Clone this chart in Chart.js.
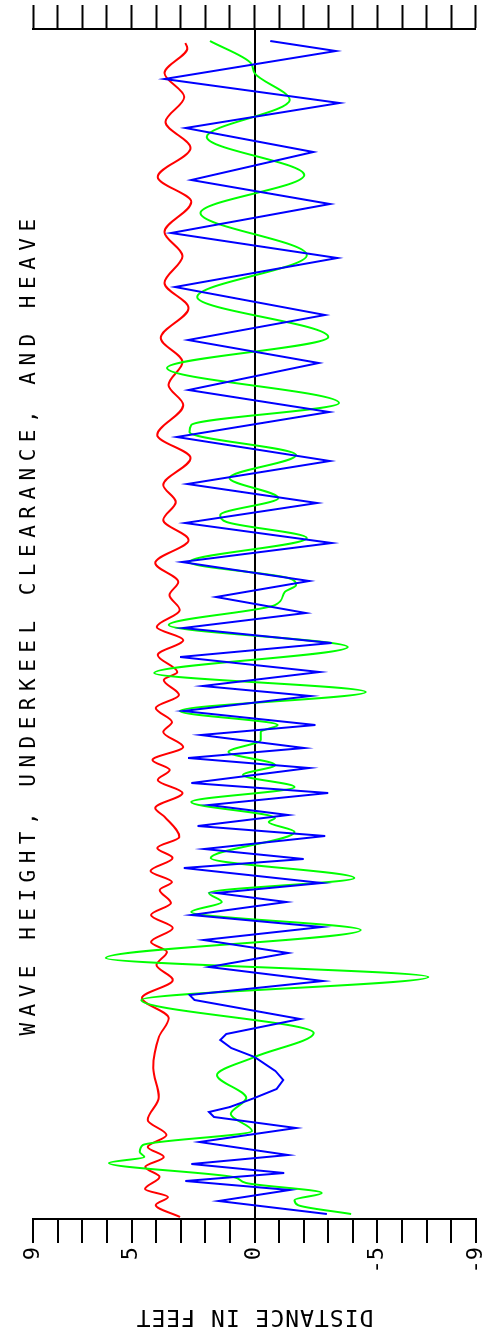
<!DOCTYPE html>
<html>
<head>
<meta charset="utf-8">
<script src="https://cdn.jsdelivr.net/npm/chart.js@4.4.0/dist/chart.umd.min.js"></script>
<style>
html, body { margin: 0; padding: 0; background: #fff; overflow: hidden; }
#wrap { position: absolute; left: 0; top: 0; width: 1335px; height: 493px;
        transform-origin: 0 0; transform: translateY(1335px) rotate(-90deg); }
canvas { display: block; }
</style>
</head>
<body>
<div id="wrap"><canvas id="c" width="1335" height="493"></canvas></div>
<script>
const TITLE = 'WAVE HEIGHT, UNDERKEEL CLEARANCE, AND HEAVE';
const Y_TITLE = 'DISTANCE IN FEET';
const Y_LABELED_TICKS = [9, 5, 0, -5, -9];

// time (s) and distance (ft) per series
const redTime = [0.2, 1.4, 2.2, 3.0, 4.2, 5.2, 6.2, 7.2, 8.4, 9.9, 12.2, 15.1, 18.2, 20.1, 22.1,
  23.9, 25.4, 26.7, 27.7, 29.1, 30.4, 31.6, 32.9, 33.7, 34.8, 36.1, 37.1, 38.2, 40.2, 41.1, 42.6,
  43.9, 44.9, 45.9, 47.2, 48.7, 49.7, 51.1, 52.4, 53.9, 54.7, 56.4, 57.9, 59.2, 60.9, 62.4,
  63.7, 65.6, 67.9, 69.9, 71.7, 73.4, 76.1, 78.4, 81.4, 83.4, 85.7, 88.1, 91.1, 93.6, 96.3,
  98.7, 101.7, 104.2, 107.1, 109.7, 112.2, 114.6, 117.1, 117.6];
const redFeet = [3.03, 4.02, 3.52, 4.45, 3.86, 4.44, 3.69, 4.34, 3.58, 4.34, 3.89, 4.12, 3.89, 3.49, 4.58,
  3.32, 3.99, 3.56, 4.21, 3.32, 4.21, 3.40, 3.85, 3.36, 4.23, 3.33, 3.95, 3.06, 3.65, 4.04, 2.93,
  3.93, 3.45, 4.15, 2.90, 3.71, 3.36, 4.02, 3.07, 3.69, 3.14, 3.93, 2.90, 3.98, 3.04, 3.46,
  3.10, 4.04, 2.68, 3.71, 3.20, 3.71, 2.60, 3.95, 2.90, 3.50, 2.93, 3.81, 2.68, 3.66, 2.93,
  3.66, 2.57, 3.93, 2.60, 3.62, 2.86, 3.66, 2.73, 2.81];

const greenTime = [0.5, 1.4, 1.9, 2.6, 3.6, 4.2, 5.6, 6.2, 6.7, 7.4, 8.8, 10.5, 12.1, 14.4, 16.2,
  18.6, 21.9, 24.2, 26.1, 28.9, 30.7, 31.7, 32.6, 34.1, 36.1, 38.7, 39.7, 40.1, 41.7, 43.2,
  44.4, 45.4, 46.7, 47.9, 48.7, 49.4, 50.8, 52.7, 54.6, 57.2, 59.4, 61.4, 62.7, 63.4, 64.1,
  65.7, 68.1, 69.7, 70.4, 72.1, 74.1, 76.4, 78.7, 79.4, 81.6, 85.1, 88.2, 92.2, 96.4, 100.6,
  104.4, 108.2, 111.9, 114.6, 115.6, 117.8];
const greenFeet = [-3.93, -1.76, -1.63, -2.74, 0.34, 0.87, 5.92, 4.48, 4.67, 4.54, 0.10, 0.97, 0.34, 1.52, 0.00,
  -2.41, 4.61, -7.07, 6.05, -4.32, 2.57, 1.33, 1.85, -4.06, 1.78, -1.63, -0.58, -0.83, 2.57, -1.63,
  0.47, -0.84, 1.06, -0.25, -0.25, -0.94, 3.03, -4.52, 4.08, -3.79, 3.49, -0.84, -1.23, -1.69, -1.37,
  2.64, -2.13, 1.13, 1.39, -0.97, 1.02, -1.69, 2.64, 2.57, -3.44, 3.56, -3.00, 2.33, -2.13, 2.20,
  -2.02, 1.94, -1.43, 0.00, 0.15, 1.81];

const blueTime = [0.5, 1.8, 2.9, 3.8, 4.6, 5.5, 6.4, 7.7, 9.1, 10.2, 10.7, 11.2, 12.1, 13.0, 13.9,
  14.8, 16.2, 17.1, 17.9, 18.5, 20.0, 21.9, 22.4, 23.8, 25.2, 26.6, 27.9, 29.2, 30.4, 31.7,
  32.6, 33.6, 35.1, 36.0, 37.0, 38.3, 39.3, 40.4, 41.4, 42.6, 43.6, 45.1, 46.1, 47.1, 48.4,
  49.4, 50.8, 52.3, 53.3, 54.7, 56.2, 57.6, 59.1, 60.6, 62.2, 63.8, 65.7, 67.6, 69.6, 71.6,
  73.5, 75.8, 78.2, 80.7, 82.9, 85.6, 87.9, 90.4, 93.2, 96.1, 98.6, 101.5, 103.9, 106.7, 109.1,
  111.6, 114.0, 116.8, 117.8];
const blueFeet = [-2.94, 1.46, -1.43, 2.81, -1.21, 2.57, -1.37, 2.24, -1.69, 1.65, 1.85, 1.0, 0.0, -0.9, -1.17,
  -0.85, 0.0, 0.95, 1.39, 1.15, -1.86, 2.44, 2.64, -2.78, 1.85, -1.37, 2.07, -2.74, 2.57, -1.30,
  1.55, -2.74, 2.87, -2.00, 2.05, -2.87, 2.31, -1.37, 1.85, -3.00, 2.57, -2.22, 2.70, -2.02, 2.18,
  -2.48, 2.90, -2.28, 2.11, -2.65, 3.03, -3.14, 2.90, -2.09, 1.56, -2.22, 2.96, -3.14, 2.83, -2.55,
  2.73, -3.07, 3.16, -3.04, 2.68, -2.61, 2.70, -2.87, 3.23, -3.37, 3.39, -3.07, 2.57, -2.39, 2.80,
  -3.46, 3.66, -3.31, -0.64];

const pts = (ts, vs) => ts.map((t, i) => ({ x: t, y: vs[i] }));
const FONT = "'DejaVu Sans Mono', monospace";

const spacingPlugin = {
  id: 'spacing',
  beforeDraw(chart) {
    const ctx = chart.ctx;
    const wrap = (obj, fn, sp) => {
      if (!obj || obj['_w_' + fn]) return;
      const orig = obj[fn].bind(obj);
      obj[fn] = function (...a) { ctx.save(); ctx.letterSpacing = sp; orig(...a); ctx.restore(); };
      obj['_w_' + fn] = true;
    };
    wrap(chart.titleBlock, 'draw', '6.5px');
    wrap(chart.scales.y, 'drawTitle', '1px');
  }
};

const isZero = v => Math.abs(v) < 1e-9;

new Chart(document.getElementById('c'), {
  type: 'line',
  data: {
    datasets: [
      { label: 'Heave', data: pts(blueTime, blueFeet), borderColor: '#0000ff', borderWidth: 2,
        pointRadius: 0, tension: 0, fill: false },
      { label: 'Wave height', data: pts(greenTime, greenFeet), borderColor: '#00ff00', borderWidth: 2,
        pointRadius: 0, cubicInterpolationMode: 'monotone', fill: false },
      { label: 'Underkeel clearance', data: pts(redTime, redFeet), borderColor: '#ff0000', borderWidth: 2,
        pointRadius: 0, cubicInterpolationMode: 'monotone', fill: false }
    ]
  },
  plugins: [spacingPlugin],
  options: {
    responsive: false,
    animation: false,
    events: [],
    layout: { padding: { left: 0, right: 0, top: 0, bottom: 2 } },
    plugins: {
      legend: { display: false },
      tooltip: { enabled: false },
      title: {
        display: true, text: TITLE, color: '#000', fullSize: false,
        font: { family: FONT, size: 21, weight: 'normal', lineHeight: 1.2 },
        padding: { top: 17, bottom: -9 }
      }
    },
    scales: {
      x: { type: 'linear', min: 0, max: 119, display: false },
      y: {
        position: 'left', min: -9, max: 9,
        afterFit: s => { s.width = 116; },
        border: { display: true, color: '#000', width: 2 },
        grid: {
          drawOnChartArea: true,
          color: c => (c.tick && isZero(c.tick.value)) ? '#000' : 'rgba(0,0,0,0)',
          lineWidth: 2, tickColor: '#000', tickLength: 24, tickWidth: 2
        },
        ticks: {
          stepSize: 1, autoSkip: false, color: '#000', padding: 4,
          font: { family: FONT, size: 22 },
          callback: v => Y_LABELED_TICKS.includes(Math.round(v)) ? String(Math.round(v)) : ''
        },
        title: {
          display: true, text: Y_TITLE, color: '#000',
          font: { family: FONT, size: 23 }, padding: { top: 5, bottom: 0 }
        }
      },
      y2: {
        position: 'right', min: -9, max: 9,
        afterFit: s => { s.width = 29; },
        border: { display: true, color: '#000', width: 2 },
        grid: { drawOnChartArea: false, tickColor: '#000', tickLength: 24, tickWidth: 2 },
        ticks: { stepSize: 1, autoSkip: false, callback: () => '' }
      }
    }
  }
});
</script>
</body>
</html>
